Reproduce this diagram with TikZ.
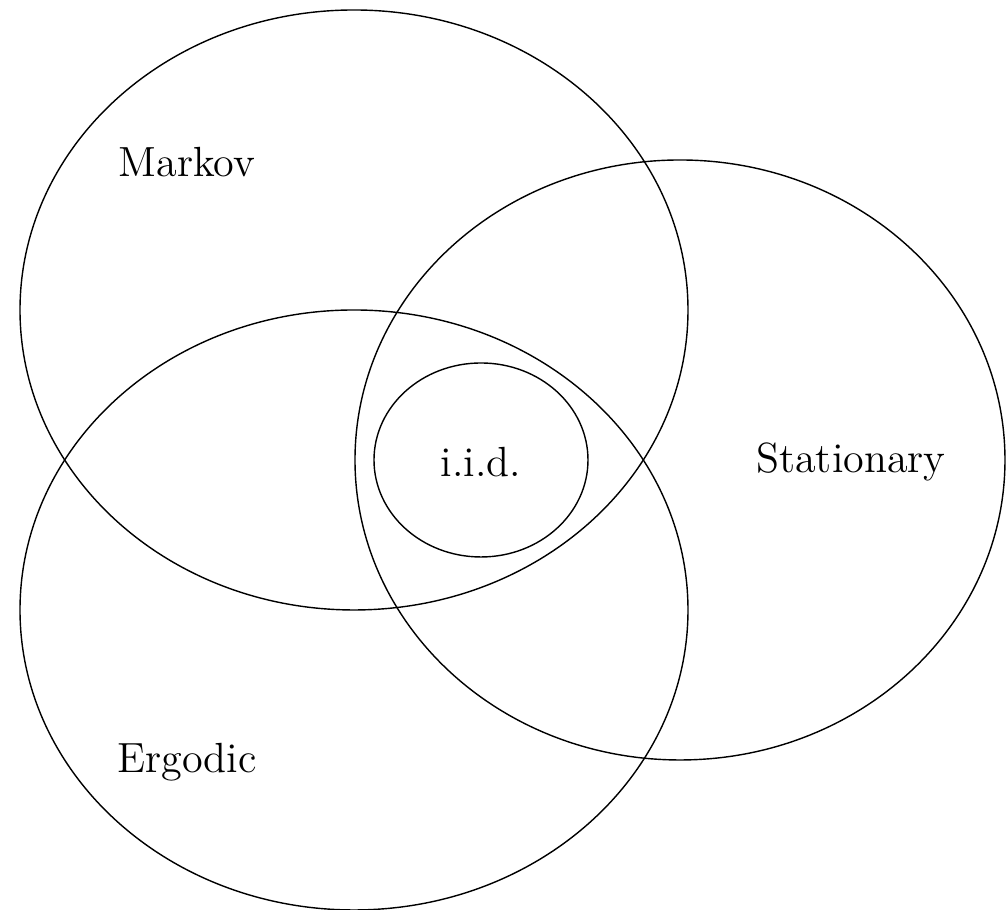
\documentclass[tikz,border=0pt]{standalone}
\usepackage{tikz}
\usetikzlibrary{positioning}

\begin{document}
\begin{tikzpicture}[
  set/.style={draw=black,line width=0.4pt},
  lbl/.style={font=\large}]
  \useasboundingbox (0,0) rectangle (10.06,9.10);
  % the four sets
  \draw[set] (3.54,6.00) ellipse [x radius=3.34,y radius=3.00];
  \draw[set] (3.54,3.00) ellipse [x radius=3.34,y radius=3.00];
  \draw[set] (6.80,4.50) ellipse [x radius=3.25,y radius=3.00];
  \draw[set] (4.81,4.50) ellipse [x radius=1.07,y radius=0.97];
  % labels
  \node (markov) [lbl] at (1.87,7.48) {Markov};
  \node (ergodic) [lbl] at (1.87,1.48) {Ergodic};
  \node (stationary) [lbl] at (8.51,4.48) {Stationary};
  \node (iid) [lbl] at (4.81,4.48) {i.i.d.};
\end{tikzpicture}
\end{document}
